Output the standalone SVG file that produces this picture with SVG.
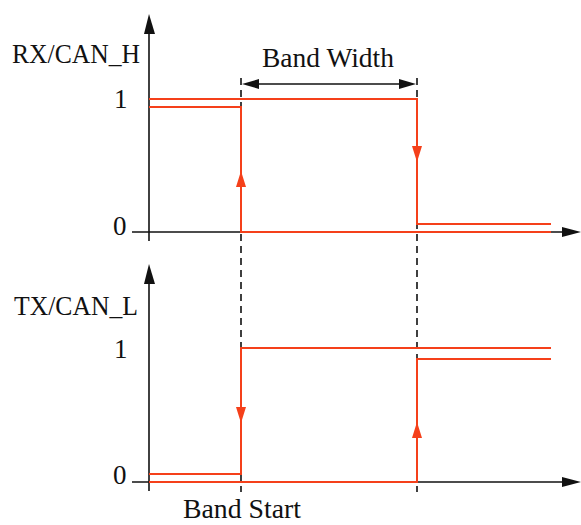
<svg xmlns="http://www.w3.org/2000/svg" width="581" height="525" viewBox="0 0 581 525">
<style>
.t{font-family:"Liberation Serif","Times New Roman",serif;font-size:27px;fill:#111}
.ax{stroke:#111;stroke-width:1.6;fill:none}
.sig{stroke:#f5401a;stroke-width:2;fill:none}
.dash{stroke:#111;stroke-width:1.6;stroke-dasharray:7 5;fill:none}
.ah{fill:#111}
.rh{fill:#f5401a}
</style>
<rect width="581" height="525" fill="#fff"/>
<g id="connectors">
<line class="dash" x1="241" y1="78" x2="241" y2="492"/>
<line class="dash" x1="417" y1="78" x2="417" y2="492"/>
<line class="ax" x1="149" y1="30" x2="149" y2="241"/>
<polygon class="ah" points="149,14 144,34 155,34"/>
<line class="ax" x1="132" y1="232" x2="568" y2="232"/>
<polygon class="ah" points="581,232 562,227 562,237"/>
<line class="ax" x1="149" y1="280" x2="149" y2="491"/>
<polygon class="ah" points="149,264 144,284 155,284"/>
<line class="ax" x1="132" y1="482" x2="568" y2="482"/>
<polygon class="ah" points="581,482 562,477 562,487"/>
<line class="ax" x1="255" y1="84" x2="403" y2="84"/>
<polygon class="ah" points="242,84 259,79 259,89"/>
<polygon class="ah" points="416,84 399,79 399,89"/>
</g>
<g id="rx-signal">
<polyline class="sig" points="149,99 417,99 417,224 551,224"/>
<polyline class="sig" points="149,107 241,107 241,232 551,232"/>
<polygon class="rh" points="241,171 236,187 246,187"/>
<polygon class="rh" points="417,162 412,146 422,146"/>
</g>
<g id="tx-signal">
<polyline class="sig" points="149,474 241,474 241,348 551,348"/>
<polyline class="sig" points="149,482 417,482 417,359 551,359"/>
<polygon class="rh" points="241,423 236,407 246,407"/>
<polygon class="rh" points="417,422 412,438 422,438"/>
</g>
<g id="labels">
<text class="t" x="12" y="63" textLength="128" lengthAdjust="spacingAndGlyphs">RX/CAN_H</text>
<text class="t" x="114" y="108">1</text>
<text class="t" x="113" y="235">0</text>
<text class="t" x="262" y="67" textLength="132" lengthAdjust="spacingAndGlyphs">Band Width</text>
<text class="t" x="14" y="315" textLength="124" lengthAdjust="spacingAndGlyphs">TX/CAN_L</text>
<text class="t" x="114" y="358">1</text>
<text class="t" x="113" y="484">0</text>
<text class="t" x="183" y="518" textLength="118" lengthAdjust="spacingAndGlyphs">Band Start</text>
</g>
</svg>
